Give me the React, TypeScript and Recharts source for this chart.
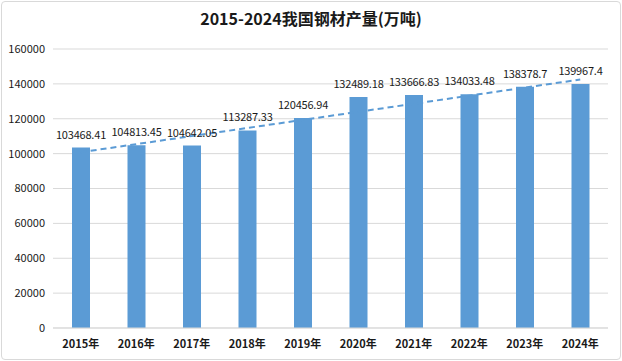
import { ComposedChart, Bar, Line, XAxis, YAxis, CartesianGrid, LabelList } from 'recharts'

const years = ['2015年', '2016年', '2017年', '2018年', '2019年', '2020年', '2021年', '2022年', '2023年', '2024年']
const output = [103468.41, 104813.45, 104642.05, 113287.33, 120456.94, 132489.18, 133666.83, 134033.48, 138378.7, 139967.4]
// dashed trend line, only its two ends
const trend = [100800, null, null, null, null, null, null, null, null, 142500]
const yTicks = [0, 20000, 40000, 60000, 80000, 100000, 120000, 140000, 160000]

const data = years.map((y, i) => ({ year: y, output: output[i], trend: trend[i] }))

const font = '"Noto Sans CJK SC", "Noto Sans", sans-serif'

export default function App() {
  return (
    <div style={{ position: 'absolute', left: 0, top: 0, width: 622, height: 361, background: '#fff', fontFamily: font }}>
      <div style={{ position: 'absolute', left: 1, top: 1, width: 618, height: 357, border: '1px solid #d9d9d9', borderRadius: 4 }} />
      <div style={{ position: 'absolute', left: 0, top: 6, width: 622, textAlign: 'center', fontSize: 16, fontWeight: 700, color: '#1a1a1a' }}>
        2015-2024我国钢材产量(万吨)
      </div>
      <ComposedChart width={622} height={361} data={data} margin={{ top: 49, right: 14, bottom: 8, left: 0 }} style={{ position: 'absolute', left: 0, top: 0 }}>
        <CartesianGrid vertical={false} stroke="#d9d9d9" />
        <XAxis dataKey="year" height={25} tickLine={false} axisLine={{ stroke: '#d9d9d9' }}
          tick={{ fill: '#1a1a1a', fontSize: 11, fontFamily: font, fontWeight: 700 }} tickMargin={6} />
        <YAxis width={53} domain={[0, 160000]} ticks={yTicks} tickLine={false} axisLine={false} tickSize={0} tickMargin={8}
          tick={{ fill: '#1a1a1a', fontSize: 11, fontFamily: font }} />
        <Bar dataKey="output" fill="#5b9bd5" barSize={18} isAnimationActive={false}>
          <LabelList dataKey="output" position="top" offset={9} style={{ fill: '#1a1a1a', fontSize: 11, fontFamily: font, letterSpacing: -0.2 }} />
        </Bar>
        <Line dataKey="trend" type="linear" connectNulls stroke="#5b9bd5" strokeWidth={2} strokeDasharray="6 4" dot={false} isAnimationActive={false} />
      </ComposedChart>
    </div>
  )
}
